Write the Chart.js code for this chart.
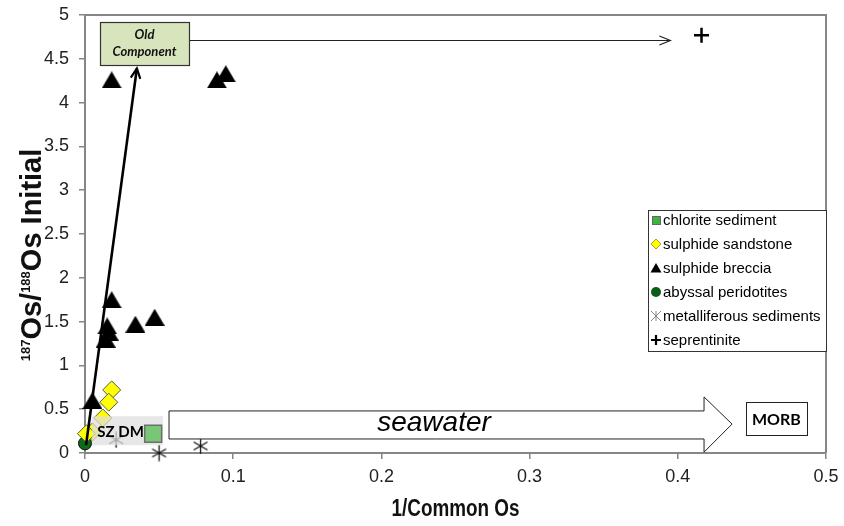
<!DOCTYPE html>
<html><head><meta charset="utf-8">
<script src="https://cdn.jsdelivr.net/npm/chart.js@4/dist/chart.umd.min.js"></script>
<style>html,body{margin:0;padding:0;background:#fff;}canvas{display:block;}</style>
</head><body>
<canvas id="c" width="844" height="526"></canvas>
<script>
// ---------- data ----------
const seriesNames = ['chlorite sediment','sulphide sandstone','sulphide breccia','abyssal peridotites','metalliferous sediments','seprentinite'];
const chloriteX = [0.046];
const chloriteY = [0.22];
const sandstoneX = [0.018, 0.016, 0.012, 0.005, 0.001];
const sandstoneY = [0.72, 0.58, 0.40, 0.24, 0.22];
const brecciaX = [0.018, 0.089, 0.095, 0.018, 0.015, 0.016, 0.014, 0.034, 0.047, 0.005];
const brecciaY = [4.26, 4.26, 4.33, 1.75, 1.45, 1.38, 1.30, 1.47, 1.55, 0.60];
const peridotiteX = [0.0];
const peridotiteY = [0.11];
const metalliferousX = [0.021, 0.050, 0.078];
const metalliferousY = [0.15, 0.0, 0.08];
const serpentiniteX = [0.416];
const serpentiniteY = [4.77];
const xTickValues = [0, 0.1, 0.2, 0.3, 0.4, 0.5];
const yTickValues = [0, 0.5, 1, 1.5, 2, 2.5, 3, 3.5, 4, 4.5, 5];
const xTitle = '1/Common Os';
const yTitleParts = [['187', true], ['Os/', false], ['188', true], ['Os Initial', false]];

// annotation anchors in data units
const oldBox = {x1: 0.0101, x2: 0.0702, y1: 4.92, y2: 4.43, lines: ['Old', 'Component']};
const oldArrow = {x1: 0.0702, x2: 0.395, y: 4.715};
const mixArrow = {x1: 0.0007, y1: 0.09, x2: 0.035, y2: 4.39};
const szdmBox = {x1: 0.0047, x2: 0.0526, y1: 0.42, y2: 0.09, label: 'SZ DM', lx: 0.024, ly: 0.24};
const seaArrow = {x1: 0.0567, xh: 0.4177, xt: 0.4366, st: 0.48, sb: 0.16, ht: 0.64, hb: 0.01, ty: 0.33, label: 'seawater', lx: 0.2355, ly: 0.34};
const morbBox = {x1: 0.446, x2: 0.487, y1: 0.58, y2: 0.205, label: 'MORB'};

const zip = (xs, ys) => xs.map((x, i) => ({x: x, y: ys[i]}));

// custom marker images
function triCanvas(w, h, fill) {
  const c = document.createElement('canvas'); c.width = w; c.height = h;
  const g = c.getContext('2d');
  g.fillStyle = fill; g.beginPath(); g.moveTo(w/2, 0); g.lineTo(w, h); g.lineTo(0, h); g.closePath(); g.fill();
  return c;
}
function astCanvas(s, col, lw) {
  const c = document.createElement('canvas'); c.width = s; c.height = s;
  const g = c.getContext('2d');
  g.strokeStyle = col; g.lineWidth = lw; g.beginPath();
  const m = s/2, r = s/2 - 0.5;
  g.moveTo(m, m - r); g.lineTo(m, m + r);
  const dx = r * Math.sin(Math.PI/3), dy = r * Math.cos(Math.PI/3);
  g.moveTo(m - dx, m - dy); g.lineTo(m + dx, m + dy);
  g.moveTo(m - dx, m + dy); g.lineTo(m + dx, m - dy);
  g.stroke();
  return c;
}
const triImg = triCanvas(20, 17, '#000');
const astImg = astCanvas(17, '#111', 1.3);

const GRAY = '#868686';
const fmt = v => String(Math.round(v * 1000) / 1000);

const annot = {
  id: 'annot',
  afterDatasetDraw(chart, args) {
    if (args.index !== 1) return;
    const ctx = chart.ctx, xs = chart.scales.x, ys = chart.scales.y;
    const X = v => xs.getPixelForValue(v), Y = v => ys.getPixelForValue(v);
    ctx.save();
    ctx.fillStyle = 'rgba(222,222,222,0.72)';
    ctx.fillRect(X(szdmBox.x1), Y(szdmBox.y1), X(szdmBox.x2) - X(szdmBox.x1), Y(szdmBox.y2) - Y(szdmBox.y1));
    ctx.restore();
  },
  afterDatasetsDraw(chart) {
    const ctx = chart.ctx, xs = chart.scales.x, ys = chart.scales.y;
    const X = v => xs.getPixelForValue(v), Y = v => ys.getPixelForValue(v);
    ctx.save();
    ctx.fillStyle = '#000'; ctx.font = 'bold 15px Lato'; ctx.textAlign = 'center'; ctx.textBaseline = 'middle';
    ctx.fillText(szdmBox.label, X(szdmBox.lx), Y(szdmBox.ly));
    // seawater arrow
    ctx.beginPath();
    ctx.moveTo(X(seaArrow.x1), Y(seaArrow.st));
    ctx.lineTo(X(seaArrow.xh), Y(seaArrow.st));
    ctx.lineTo(X(seaArrow.xh), Y(seaArrow.ht));
    ctx.lineTo(X(seaArrow.xt), Y(seaArrow.ty));
    ctx.lineTo(X(seaArrow.xh), Y(seaArrow.hb));
    ctx.lineTo(X(seaArrow.xh), Y(seaArrow.sb));
    ctx.lineTo(X(seaArrow.x1), Y(seaArrow.sb));
    ctx.closePath();
    ctx.fillStyle = '#fff'; ctx.fill();
    ctx.strokeStyle = '#222'; ctx.lineWidth = 1; ctx.stroke();
    ctx.fillStyle = '#000'; ctx.font = 'italic 28px "Liberation Sans"';
    ctx.fillText(seaArrow.label, X(seaArrow.lx), Y(seaArrow.ly));
    // MORB box
    const mx = X(morbBox.x1), my = Y(morbBox.y1), mw = X(morbBox.x2) - mx, mh = Y(morbBox.y2) - my;
    ctx.fillStyle = '#fff'; ctx.fillRect(mx, my, mw, mh);
    ctx.strokeStyle = '#222'; ctx.strokeRect(Math.round(mx) + 0.5, Math.round(my) + 0.5, Math.round(mw), Math.round(mh));
    ctx.fillStyle = '#000'; ctx.font = 'bold 16px Lato';
    ctx.fillText(morbBox.label, mx + mw/2, my + mh/2 + 1);
    // mixing arrow
    const ax1 = X(mixArrow.x1), ay1 = Y(mixArrow.y1), ax2 = X(mixArrow.x2), ay2 = Y(mixArrow.y2);
    ctx.strokeStyle = '#000'; ctx.lineWidth = 2.6; ctx.lineCap = 'butt';
    ctx.beginPath(); ctx.moveTo(ax1, ay1); ctx.lineTo(ax2, ay2); ctx.stroke();
    const ang = Math.atan2(ay2 - ay1, ax2 - ax1);
    ctx.lineWidth = 2.2;
    ctx.beginPath();
    ctx.moveTo(ax2 - 11*Math.cos(ang - 0.45), ay2 - 11*Math.sin(ang - 0.45));
    ctx.lineTo(ax2, ay2);
    ctx.lineTo(ax2 - 11*Math.cos(ang + 0.45), ay2 - 11*Math.sin(ang + 0.45));
    ctx.stroke();
    // old component arrow
    const hx1 = X(oldArrow.x1), hx2 = X(oldArrow.x2), hy = Math.round(Y(oldArrow.y)) + 0.5;
    ctx.lineWidth = 1.2; ctx.strokeStyle = '#222';
    ctx.beginPath(); ctx.moveTo(hx1, hy); ctx.lineTo(hx2, hy); ctx.stroke();
    ctx.beginPath(); ctx.moveTo(hx2 - 11, hy - 4.5); ctx.lineTo(hx2, hy); ctx.lineTo(hx2 - 11, hy + 4.5); ctx.stroke();
    // old component box
    const bx = X(oldBox.x1), by = Y(oldBox.y1), bw = X(oldBox.x2) - bx, bh = Y(oldBox.y2) - by;
    ctx.fillStyle = '#d8e4bc'; ctx.fillRect(bx, by, bw, bh);
    ctx.strokeStyle = '#333'; ctx.lineWidth = 1.2; ctx.strokeRect(Math.round(bx) + 0.5, Math.round(by) + 0.5, Math.round(bw), Math.round(bh));
    ctx.fillStyle = '#111'; ctx.font = 'italic bold 13px Lato';
    ctx.fillText(oldBox.lines[0], bx + bw/2, by + bh*0.3);
    ctx.fillText(oldBox.lines[1], bx + bw/2, by + bh*0.7);
    ctx.restore();
  },
  afterDraw(chart) {
    const ctx = chart.ctx, ca = chart.chartArea;
    ctx.save();
    ctx.strokeStyle = GRAY; ctx.lineWidth = 2;
    ctx.beginPath(); ctx.moveTo(ca.left, ca.top); ctx.lineTo(ca.right, ca.top); ctx.lineTo(ca.right, ca.bottom); ctx.stroke();
    // legend
    const lx = 648, ly = 210, lw = 178, lh = 141;
    ctx.fillStyle = '#fff'; ctx.fillRect(lx, ly, lw, lh);
    ctx.strokeStyle = '#333'; ctx.lineWidth = 1; ctx.strokeRect(lx + 0.5, ly + 0.5, lw, lh);
    ctx.font = '15px "Liberation Sans"'; ctx.textBaseline = 'middle'; ctx.textAlign = 'left';
    const rowY = [220, 244, 268, 292, 316, 340];
    const mxc = 656;
    rowY.forEach((yy, i) => {
      ctx.save();
      if (i === 0) { ctx.fillStyle = '#3cb53c'; ctx.fillRect(mxc - 4, yy - 4, 9, 9); ctx.strokeStyle = '#666'; ctx.lineWidth = 1; ctx.strokeRect(mxc - 4 + 0.5, yy - 4 + 0.5, 8, 8); }
      if (i === 1) { ctx.beginPath(); ctx.moveTo(mxc, yy - 5); ctx.lineTo(mxc + 5, yy); ctx.lineTo(mxc, yy + 5); ctx.lineTo(mxc - 5, yy); ctx.closePath(); ctx.fillStyle = '#ffff00'; ctx.fill(); ctx.strokeStyle = '#b8a000'; ctx.lineWidth = 1; ctx.stroke(); }
      if (i === 2) { ctx.beginPath(); ctx.moveTo(mxc, yy - 5); ctx.lineTo(mxc + 5.5, yy + 4.5); ctx.lineTo(mxc - 5.5, yy + 4.5); ctx.closePath(); ctx.fillStyle = '#000'; ctx.fill(); }
      if (i === 3) { ctx.beginPath(); ctx.arc(mxc, yy, 5, 0, Math.PI*2); ctx.fillStyle = '#0b5e17'; ctx.fill(); }
      if (i === 4) { ctx.strokeStyle = '#888'; ctx.lineWidth = 1; ctx.beginPath(); ctx.moveTo(mxc - 5, yy - 5); ctx.lineTo(mxc + 5, yy + 5); ctx.moveTo(mxc - 5, yy + 5); ctx.lineTo(mxc + 5, yy - 5); ctx.moveTo(mxc, yy - 5); ctx.lineTo(mxc, yy + 5); ctx.stroke(); }
      if (i === 5) { ctx.strokeStyle = '#000'; ctx.lineWidth = 2.2; ctx.beginPath(); ctx.moveTo(mxc - 5, yy); ctx.lineTo(mxc + 5, yy); ctx.moveTo(mxc, yy - 5); ctx.lineTo(mxc, yy + 5); ctx.stroke(); }
      ctx.restore();
      ctx.fillStyle = '#000';
      ctx.fillText(seriesNames[i], 663, yy + 1);
    });
    // x title (slightly condensed)
    ctx.save();
    ctx.fillStyle = '#111'; ctx.textAlign = 'center'; ctx.textBaseline = 'middle';
    ctx.font = 'bold 23px "Liberation Sans"';
    ctx.translate((ca.left + ca.right)/2, 510); ctx.scale(0.82, 1);
    ctx.fillText(xTitle, 0, 0);
    ctx.restore();
    // y title with superscripts
    ctx.fillStyle = '#111';
    ctx.translate(41, 255); ctx.rotate(-Math.PI/2);
    ctx.textAlign = 'left'; ctx.textBaseline = 'alphabetic';
    const bigF = 'bold 29px "Liberation Sans"', smallF = 'bold 13px "Liberation Sans"';
    let total = 0;
    yTitleParts.forEach(p => { ctx.font = p[1] ? smallF : bigF; total += ctx.measureText(p[0]).width; });
    let cx = -total/2;
    yTitleParts.forEach(p => {
      ctx.font = p[1] ? smallF : bigF;
      ctx.fillText(p[0], cx, p[1] ? -20.8 + 9.3 : 0);
      cx += ctx.measureText(p[0]).width;
    });
    ctx.restore();
  }
};

new Chart(document.getElementById('c'), {
  type: 'scatter',
  data: {
    datasets: [
      {label: seriesNames[0], data: zip(chloriteX, chloriteY), pointStyle: 'rect', pointRadius: 12, backgroundColor: '#77c777', borderColor: '#6f6f6f', borderWidth: 1.5, clip: false},
      {label: seriesNames[1], data: zip(sandstoneX, sandstoneY), pointStyle: 'rectRot', pointRadius: 9, backgroundColor: '#ffff00', borderColor: '#555', borderWidth: 1, clip: false},
      {label: seriesNames[2], data: zip(brecciaX, brecciaY), pointStyle: triImg, pointRadius: 10, clip: false},
      {label: seriesNames[3], data: zip(peridotiteX, peridotiteY), pointStyle: 'circle', pointRadius: 6.5, backgroundColor: '#0b6b1a', borderColor: '#111', borderWidth: 1, clip: false},
      {label: seriesNames[4], data: zip(metalliferousX, metalliferousY), pointStyle: astImg, pointRadius: 8, clip: false},
      {label: seriesNames[5], data: zip(serpentiniteX, serpentiniteY), pointStyle: 'cross', pointRadius: 7.5, borderColor: '#000', borderWidth: 2.5, clip: false}
    ]
  },
  options: {
    responsive: false, animation: false, events: [],
    layout: {padding: {top: 15, right: 18, left: 0, bottom: 0}},
    plugins: {legend: {display: false}, tooltip: {enabled: false}},
    scales: {
      x: {
        type: 'linear', min: 0, max: 0.5,
        afterBuildTicks: s => { s.ticks = xTickValues.map(v => ({value: v})); },
        afterFit: s => { s.height = 73; s.paddingLeft = 0; s.paddingRight = 0; },
        grid: {display: true, drawOnChartArea: false, drawTicks: true, tickLength: 6, color: GRAY, lineWidth: 1.5},
        border: {display: true, color: GRAY, width: 2},
        ticks: {font: {family: 'Liberation Sans', size: 18}, color: '#222', padding: 7, maxRotation: 0, autoSkip: false, callback: fmt}
      },
      y: {
        type: 'linear', min: 0, max: 5,
        afterBuildTicks: s => { s.ticks = yTickValues.map(v => ({value: v})); },
        afterFit: s => { s.width = 85; s.paddingTop = 0; s.paddingBottom = 0; },
        grid: {display: true, drawOnChartArea: false, drawTicks: true, tickLength: 6, color: GRAY, lineWidth: 1.5},
        border: {display: true, color: GRAY, width: 2},
        ticks: {font: {family: 'Liberation Sans', size: 18}, color: '#222', padding: 10, autoSkip: false, callback: fmt}
      }
    }
  },
  plugins: [annot]
});
</script>
</body></html>
